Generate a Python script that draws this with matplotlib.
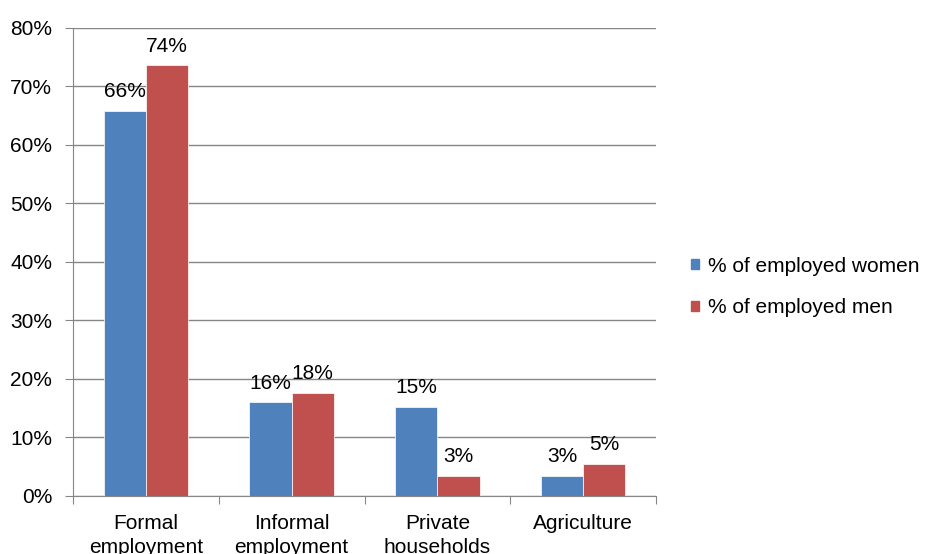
import numpy as np
import matplotlib.pyplot as plt
from matplotlib.patches import Patch

plt.rcParams['font.family'] = ['Liberation Sans', 'DejaVu Sans']

# Chart data
categories = ['Formal\nemployment', 'Informal\nemployment', 'Private\nhouseholds', 'Agriculture']
women = [65.8, 16.0, 15.2, 3.4]
men = [73.6, 17.6, 3.4, 5.5]
women_labels = ['66%', '16%', '15%', '3%']
men_labels = ['74%', '18%', '3%', '5%']
series_names = ['% of employed women', '% of employed men']

blue = '#4f81bd'
red = '#c0504d'
grid_col = '#868686'
fs = 15

fig = plt.figure(figsize=(9.28, 5.54), dpi=100)
ax = fig.add_axes([0.0787, 0.1047, 0.6282, 0.8448])

x = np.arange(len(categories))
w = 0.29
ax.bar(x - w / 2, women, width=w, color=blue, edgecolor='white', linewidth=0.5, zorder=3)
ax.bar(x + w / 2, men, width=w, color=red, edgecolor='white', linewidth=0.5, zorder=3)

for xi, v, lab in zip(x - w / 2, women, women_labels):
    ax.annotate(lab, (xi, v), xytext=(0, 7), textcoords='offset points',
                ha='center', va='bottom', fontsize=fs)
for xi, v, lab in zip(x + w / 2, men, men_labels):
    ax.annotate(lab, (xi, v), xytext=(0, 7), textcoords='offset points',
                ha='center', va='bottom', fontsize=fs)

ax.set_xlim(-0.5, len(categories) - 0.5)
ax.set_ylim(0, 80)
ax.set_yticks(np.arange(0, 81, 10))
ax.set_yticklabels([f'{t}%' for t in range(0, 81, 10)], fontsize=fs)
ax.yaxis.grid(True, color=grid_col, linewidth=1, zorder=0)

# category labels between boundary ticks
ax.set_xticks(np.arange(-0.5, len(categories), 1))
ax.set_xticklabels([])
ax.set_xticks(x, minor=True)
ax.set_xticklabels(categories, minor=True, fontsize=fs, linespacing=1.35)
ax.tick_params(axis='x', which='minor', length=0, pad=13)
ax.tick_params(axis='x', which='major', length=6, color=grid_col)
ax.tick_params(axis='y', length=6, color=grid_col, pad=9)

for s in ['top', 'right']:
    ax.spines[s].set_visible(False)
for s in ['left', 'bottom']:
    ax.spines[s].set_color(grid_col)

handles = [Patch(color=blue), Patch(color=red)]
fig.legend(handles, series_names, loc='center left', bbox_to_anchor=(0.729, 0.482),
           frameon=False, fontsize=fs, handlelength=0.4, handleheight=0.4,
           handletextpad=0.4, labelspacing=1.1, borderpad=0.2)

fig.savefig('out.png', dpi=100)
